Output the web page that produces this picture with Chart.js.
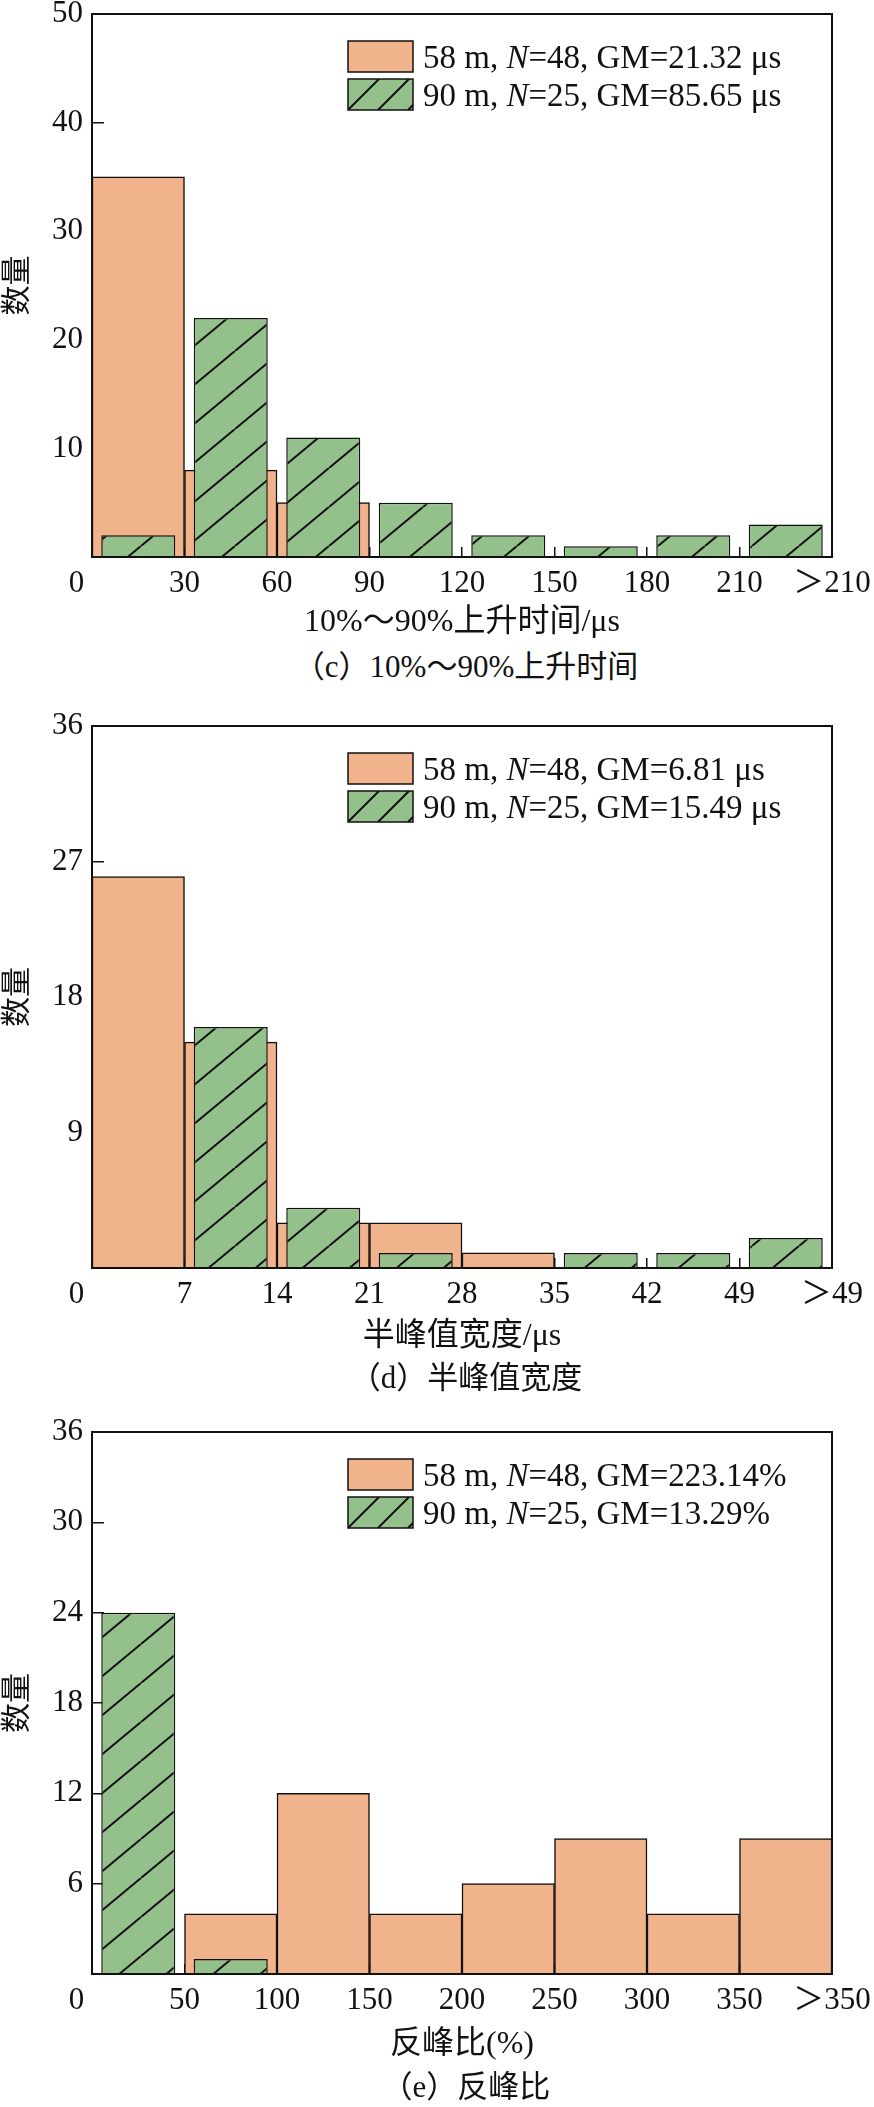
<!DOCTYPE html>
<html lang="zh-CN">
<head>
<meta charset="UTF-8">
<title>上升时间、半峰值宽度与反峰比统计</title>
<script src="https://cdn.jsdelivr.net/npm/chart.js"></script>
<style>
    html, body { margin: 0; padding: 0; background: #fff; }
    #page { position: relative; width: 874px; height: 2107px; overflow: hidden; }
    canvas { position: absolute; left: 0; }
    .cap {
        position: absolute; left: 96px; width: 740px; height: 40px;
        text-align: center; line-height: 40px; color: #111;
        font-family: 'Liberation Serif', 'Noto Sans CJK SC', serif; font-size: 31px;
    }
</style>
</head>
<body>
<div id="page">
    <canvas id="chartC" width="874" height="646" style="top:0px"></canvas>
    <div class="cap" style="top:647px">（c）10%～90%上升时间</div>
    <canvas id="chartD" width="874" height="660" style="top:700px"></canvas>
    <div class="cap" style="top:1358px">（d）半峰值宽度</div>
    <canvas id="chartE" width="874" height="658" style="top:1410px"></canvas>
    <div class="cap" style="top:2067px">（e）反峰比</div>
</div>

<script>
// (c) 10%~90% 上升时间
var edgesC = ['0\u2003', '30', '60', '90', '120', '150', '180', '210', '＞210'];
var countC58 = [35, 8, 5, 0, 0, 0, 0, 0];
var countC90 = [2, 22, 11, 5, 2, 1, 2, 3];
var legendC = ['58 m, N=48, GM=21.32 μs', '90 m, N=25, GM=85.65 μs'];

// (d) 半峰值宽度
var edgesD = ['0\u2003', '7', '14', '21', '28', '35', '42', '49', '＞49'];
var countD58 = [26, 15, 3, 3, 1, 0, 0, 0];
var countD90 = [0, 16, 4, 1, 0, 1, 1, 2];
var legendD = ['58 m, N=48, GM=6.81 μs', '90 m, N=25, GM=15.49 μs'];

// (e) 反峰比
var edgesE = ['0\u2003', '50', '100', '150', '200', '250', '300', '350', '＞350'];
var countE58 = [0, 4, 12, 4, 6, 9, 4, 9];
var countE90 = [24, 1, 0, 0, 0, 0, 0, 0];
var legendE = ['58 m, N=48, GM=223.14%', '90 m, N=25, GM=13.29%'];

var FAM = "'Liberation Serif', 'Noto Sans CJK SC', serif";
var INK = '#111';
var ORANGE = '#F0B38C';
var GREEN = '#94C18B';

Chart.defaults.font.family = FAM;
Chart.defaults.color = INK;

// green fill with "/" hatch lines
function hatch(fill) {
    var w = 47, h = 39;
    var c = document.createElement('canvas');
    c.width = w; c.height = h;
    var g = c.getContext('2d');
    g.fillStyle = fill;
    g.fillRect(0, 0, w, h);
    g.strokeStyle = INK;
    g.lineWidth = 2;
    g.beginPath();
    for (var k = -1; k <= 1; k++) {
        g.moveTo(k * w, h);
        g.lineTo((k + 1) * w, 0);
    }
    g.stroke();
    return g.createPattern(c, 'repeat');
}

// frame around plot + legend box inside the plot
var boxLegend = {
    id: 'boxLegend',
    afterDatasetsDraw: function (chart, args, opts) {
        var a = chart.chartArea, ctx = chart.ctx;
        ctx.save();
        ctx.strokeStyle = INK;
        ctx.lineWidth = 2;
        ctx.strokeRect(a.left, a.top, a.right - a.left, a.bottom - a.top);

        opts.items.forEach(function (label, i) {
            var x = a.left + 256, y = a.top + 27 + i * 38, w = 65, h = 31;
            ctx.fillStyle = i === 0 ? ORANGE : GREEN;
            ctx.fillRect(x, y, w, h);
            if (i === 1) {
                ctx.save();
                ctx.beginPath();
                ctx.rect(x, y, w, h);
                ctx.clip();
                ctx.beginPath();
                ctx.lineWidth = 2;
                for (var k = 0; k < 3; k++) {
                    ctx.moveTo(x + k * 30, y + h);
                    ctx.lineTo(x + k * 30 + h, y);
                }
                ctx.stroke();
                ctx.restore();
            }
            ctx.lineWidth = 1.5;
            ctx.strokeRect(x, y, w, h);

            var parts = label.split('N=');
            var tx = x + 75, ty = y + 27;
            ctx.fillStyle = INK;
            ctx.textBaseline = 'alphabetic';
            ctx.textAlign = 'left';
            ctx.font = '33px ' + FAM;
            ctx.fillText(parts[0], tx, ty);
            tx += ctx.measureText(parts[0]).width;
            ctx.font = 'italic 33px ' + FAM;
            ctx.fillText('N', tx, ty);
            tx += ctx.measureText('N').width;
            ctx.font = '33px ' + FAM;
            ctx.fillText('=' + parts[1], tx, ty);
        });
        ctx.restore();
    }
};

function toPoints(arr) {
    return arr.map(function (v, i) { return {x: i + 0.5, y: v}; });
}

function drawPanel(id, p) {
    var ctx = document.getElementById(id).getContext('2d');
    return new Chart(ctx, {
        type: 'bar',
        data: {
            datasets: [{
                label: p.legend[1],
                data: toPoints(p.green),
                backgroundColor: hatch(GREEN),
                borderColor: INK,
                borderWidth: 1.5,
                grouped: false,
                barPercentage: 0.8,
                categoryPercentage: 1,
                order: 0
            }, {
                label: p.legend[0],
                data: toPoints(p.orange),
                backgroundColor: ORANGE,
                borderColor: INK,
                borderWidth: 1.5,
                grouped: false,
                barPercentage: 1,
                categoryPercentage: 1,
                order: 1
            }]
        },
        options: {
            responsive: false,
            animation: false,
            devicePixelRatio: 1,
            events: [],
            layout: {
                autoPadding: false,
                padding: {left: 0, right: 42, top: p.padTop, bottom: 4}
            },
            scales: {
                x: {
                    type: 'linear',
                    min: 0, max: 8,
                    offset: false,
                    afterFit: function (s) {
                        s.height = p.xHeight;
                        s.paddingLeft = 0; s.paddingRight = 0;
                    },
                    afterBuildTicks: function (s) {
                        s.ticks = p.edges.map(function (t, i) { return {value: i}; });
                    },
                    ticks: {
                        autoSkip: false,
                        maxRotation: 0,
                        padding: 18,
                        font: {size: 31},
                        callback: function (v) { return p.edges[v]; }
                    },
                    grid: {offset: false, drawOnChartArea: false, tickLength: -10, color: INK, lineWidth: 1.5},
                    border: {display: true, color: INK, width: 2},
                    title: {display: true, text: p.xTitle, padding: 0, font: {size: 32, lineHeight: 1.2}}
                },
                y: {
                    min: 0, max: p.ymax,
                    afterFit: function (s) {
                        s.width = 92;
                        s.paddingTop = 0; s.paddingBottom = 0;
                    },
                    ticks: {
                        stepSize: p.ystep,
                        padding: 21,
                        font: {size: 31},
                        callback: function (v) { return v === 0 ? '' : v; }
                    },
                    grid: {drawOnChartArea: false, tickLength: -12, color: INK, lineWidth: 1.5},
                    border: {display: true, color: INK, width: 2},
                    title: {display: true, text: '数量', padding: 0, font: {size: 30, lineHeight: 1.2}}
                }
            },
            plugins: {
                legend: {display: false},
                tooltip: {enabled: false},
                boxLegend: {items: p.legend}
            }
        },
        plugins: [boxLegend]
    });
}

drawPanel('chartC', {
    edges: edgesC, orange: countC58, green: countC90, legend: legendC,
    ymax: 50, ystep: 10, xTitle: '10%～90%上升时间/μs', padTop: 14, xHeight: 85
});
drawPanel('chartD', {
    edges: edgesD, orange: countD58, green: countD90, legend: legendD,
    ymax: 36, ystep: 9, xTitle: '半峰值宽度/μs', padTop: 26, xHeight: 88
});
drawPanel('chartE', {
    edges: edgesE, orange: countE58, green: countE90, legend: legendE,
    ymax: 36, ystep: 6, xTitle: '反峰比(%)', padTop: 22, xHeight: 90
});
</script>
</body>
</html>
